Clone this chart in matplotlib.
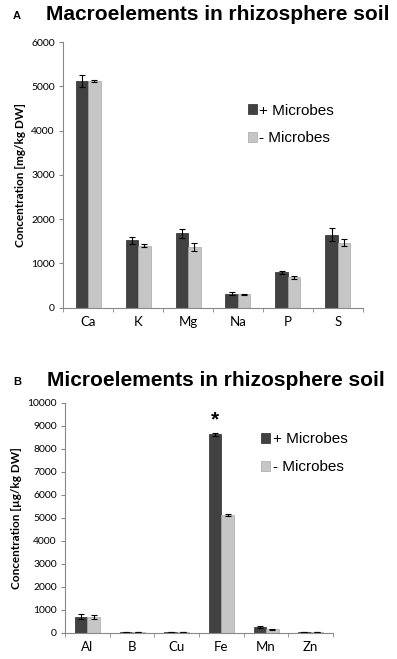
import numpy as np
import matplotlib
matplotlib.use("Agg")
import matplotlib.pyplot as plt

# panel A: macroelements (mg/kg DW)
macro_elements = ["Ca", "K", "Mg", "Na", "P", "S"]
macro_plus = [5120, 1520, 1680, 320, 800, 1650]
macro_plus_err = [130, 70, 100, 25, 30, 150]
macro_minus = [5120, 1400, 1380, 300, 690, 1470]
macro_minus_err = [30, 30, 90, 20, 30, 80]

# panel B: microelements (ug/kg DW)
micro_elements = ["Al", "B", "Cu", "Fe", "Mn", "Zn"]
micro_plus = [700, 20, 20, 8620, 250, 30]
micro_plus_err = [100, 5, 5, 60, 40, 5]
micro_minus = [680, 20, 20, 5100, 150, 20]
micro_minus_err = [80, 5, 5, 40, 30, 5]

DARK = "#414141"
LIGHT = "#c6c6c6"
tick_font = "Lato"
title_font = "Liberation Sans"

fig = plt.figure(figsize=(3.97, 6.59), dpi=100)


def draw_panel(ax, cats, plus, plus_err, minus, minus_err, ymax, ystep, width, ylabel):
    x = np.arange(len(cats))
    eb = dict(ecolor="black", elinewidth=0.8, capsize=2.5, capthick=0.8)
    ax.bar(x - width / 2, plus, width, yerr=plus_err, color=DARK,
           edgecolor="#2a2a2a", linewidth=0.5, error_kw=eb, label="+ Microbes")
    ax.bar(x + width / 2, minus, width, yerr=minus_err, color=LIGHT,
           edgecolor="#a8a8a8", linewidth=0.5, error_kw=eb, label="- Microbes")
    ax.set_xlim(-0.5, len(cats) - 0.5)
    ax.set_ylim(0, ymax)
    ax.set_yticks(np.arange(0, ymax + 1, ystep))
    ax.set_xticks(x)
    ax.set_xticklabels(cats, fontsize=9.5, family=tick_font)
    ax.set_xticks(np.arange(-0.5, len(cats)), minor=True)
    ax.tick_params(axis="x", which="major", length=0, pad=6)
    ax.tick_params(axis="x", which="minor", length=3, color="#888888")
    ax.tick_params(axis="y", length=3, color="#888888", labelsize=7.5, pad=3)
    for lbl in ax.get_yticklabels():
        lbl.set_family(tick_font)
    for s in ["top", "right"]:
        ax.spines[s].set_visible(False)
    for s in ["left", "bottom"]:
        ax.spines[s].set_color("#888888")
        ax.spines[s].set_linewidth(0.8)
    ax.set_ylabel(ylabel, fontsize=8.5, fontweight="bold", family=tick_font, labelpad=4)
    return x


axA = fig.add_axes([0.159, 0.533, 0.755, 0.403])
draw_panel(axA, macro_elements, macro_plus, macro_plus_err, macro_minus, macro_minus_err,
           6000, 1000, 0.25, "Concentration [mg/kg DW]")
axA.legend(loc="upper left", bbox_to_anchor=(0.57, 0.82), frameon=False,
           prop={"family": title_font, "size": 11}, handlelength=0.6, handleheight=0.6,
           handletextpad=0.15, labelspacing=0.9)

axB = fig.add_axes([0.164, 0.040, 0.675, 0.349])
x = draw_panel(axB, micro_elements, micro_plus, micro_plus_err, micro_minus, micro_minus_err,
               10000, 1000, 0.28, "Concentration [\u00b5g/kg DW]")
axB.legend(loc="upper left", bbox_to_anchor=(0.68, 0.93), frameon=False,
           prop={"family": title_font, "size": 11}, handlelength=0.6, handleheight=0.6,
           handletextpad=0.15, labelspacing=0.9)
axB.text(x[3] - 0.14, micro_plus[3] + micro_plus_err[3] + 150, "*", ha="center", va="bottom",
         fontsize=15, fontweight="bold", family=title_font)

fig.text(0.043, 0.976, "A", fontsize=8, fontweight="bold", family=title_font, va="center", ha="center")
fig.text(0.548, 0.978, "Macroelements in rhizosphere soil", fontsize=15, fontweight="bold",
         family=title_font, va="center", ha="center")
fig.text(0.043, 0.421, "B", fontsize=8, fontweight="bold", family=title_font, va="center", ha="center")
fig.text(0.545, 0.423, "Microelements in rhizosphere soil", fontsize=15, fontweight="bold",
         family=title_font, va="center", ha="center")

fig.savefig("out.png", dpi=100)
